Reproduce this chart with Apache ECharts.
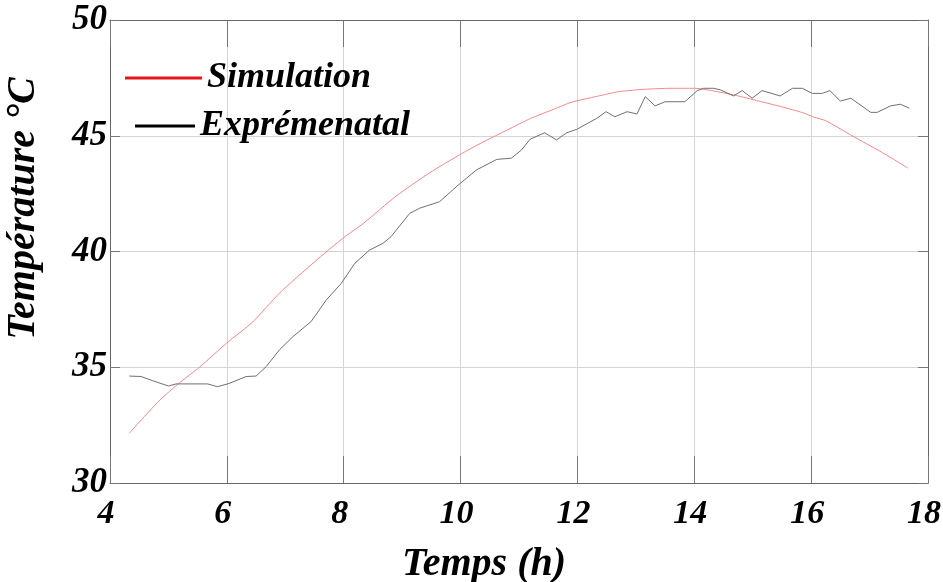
<!DOCTYPE html>
<html>
<head>
<meta charset="utf-8">
<script src="https://cdn.jsdelivr.net/npm/echarts@6/dist/echarts.min.js"></script>
<style>
  html, body { margin: 0; padding: 0; background: #fff; }
  #chart { width: 943px; height: 582px; }
</style>
</head>
<body>
<div id="chart"></div>
<script>
// simulation curve (red)
const simTime = [4.33, 4.84, 5.2, 5.53, 6.0, 6.44, 6.9, 7.5, 8.0, 8.33, 8.9, 9.47, 10.0, 10.4, 10.8,
  11.2, 11.6, 11.9, 12.33, 12.7, 13.1, 13.6, 14.0, 14.3, 14.7, 15.1, 15.5, 15.85, 16.05, 16.25,
  16.7, 17.2, 17.66];
const simTemp = [32.15, 33.55, 34.35, 35.0, 36.05, 36.95, 38.2, 39.55, 40.6, 41.2, 42.4, 43.4, 44.2, 44.75, 45.25,
  45.75, 46.15, 46.45, 46.7, 46.9, 47.0, 47.05, 47.05, 46.95, 46.75, 46.5, 46.25, 46.0, 45.8, 45.65,
  45.0, 44.3, 43.6];

// measured curve (black)
const expTime = [4.33, 4.53, 4.73, 5.0, 5.13, 5.67, 5.84, 6.04, 6.33, 6.5, 6.67, 6.9, 7.13, 7.44, 7.7,
  7.96, 8.19, 8.44, 8.67, 8.81, 9.13, 9.3, 9.64, 9.96, 10.27, 10.62, 10.87, 11.04, 11.19, 11.44,
  11.64, 11.82, 11.99, 12.33, 12.49, 12.64, 12.85, 13.02, 13.16, 13.33, 13.5, 13.84, 14.05, 14.16, 14.33,
  14.45, 14.67, 14.82, 14.99, 15.16, 15.47, 15.68, 15.85, 16.02, 16.19, 16.32, 16.5, 16.68, 17.02, 17.13,
  17.36, 17.53, 17.68];
const expTemp = [34.62, 34.6, 34.42, 34.19, 34.28, 34.28, 34.16, 34.3, 34.6, 34.62, 35.02, 35.75, 36.32, 36.97, 37.9,
  38.63, 39.49, 40.06, 40.35, 40.64, 41.65, 41.87, 42.15, 42.87, 43.52, 43.98, 44.03, 44.38, 44.85, 45.13,
  44.82, 45.13, 45.28, 45.75, 46.04, 45.82, 46.04, 45.94, 46.69, 46.29, 46.47, 46.47, 46.95, 47.05, 47.05,
  46.98, 46.72, 46.95, 46.62, 46.95, 46.72, 47.05, 47.05, 46.83, 46.83, 46.95, 46.5, 46.62, 46.01, 46.01,
  46.29, 46.36, 46.19];

const xTicks = [4, 6, 8, 10, 12, 14, 16, 18];
const yTicks = [30, 35, 40, 45, 50];

const font = 'Liberation Serif';
const pair = (xs, ys) => xs.map((x, i) => [x, ys[i]]);

const chart = echarts.init(document.getElementById('chart'));

const xBase = {
  type: 'value', min: xTicks[0], max: xTicks[xTicks.length - 1], interval: 2,
  axisLine: { show: true, lineStyle: { color: '#666', width: 1 } },
  axisTick: { show: true, inside: true, length: 27, lineStyle: { color: '#777' } }
};
const yBase = {
  type: 'value', min: yTicks[0], max: yTicks[yTicks.length - 1], interval: 5,
  axisLine: { show: true, lineStyle: { color: '#666', width: 1 } },
  axisTick: { show: true, inside: true, length: 10, lineStyle: { color: '#777' } }
};

const option = {
  backgroundColor: '#fff',
  animation: false,
  grid: { left: 110, right: 15, top: 20, bottom: 99, containLabel: false, outerBoundsMode: 'none' },
  legend: [
    {
      left: 125, top: 60, padding: 0, icon: 'rect', itemWidth: 77, itemHeight: 3,
      textStyle: { fontFamily: font, fontStyle: 'italic', fontWeight: 'bold', fontSize: 36, color: '#000' },
      data: [{ name: 'Simulation', itemStyle: { color: '#e8141c' } }]
    },
    {
      left: 135, top: 108, padding: 0, icon: 'rect', itemWidth: 60, itemHeight: 3,
      textStyle: { fontFamily: font, fontStyle: 'italic', fontWeight: 'bold', fontSize: 36, color: '#000' },
      data: [{ name: 'Exprémenatal', itemStyle: { color: '#000' } }]
    }
  ],
  xAxis: [
    Object.assign({}, xBase, {
      position: 'bottom',
      name: 'Temps (h)', nameLocation: 'middle', nameGap: 62,
      nameTextStyle: { fontFamily: font, fontStyle: 'italic', fontWeight: 'bold', fontSize: 40, color: '#000', padding: [0, 70, 0, 0] },
      axisLabel: { margin: 14, fontFamily: font, fontStyle: 'italic', fontWeight: 'bold', fontSize: 34, color: '#000', padding: [0, 8, 0, 0] },
      splitLine: { show: true, lineStyle: { color: '#d4d4d4', width: 1 } }
    }),
    Object.assign({}, xBase, { position: 'top', axisLabel: { show: false }, splitLine: { show: false } })
  ],
  yAxis: [
    Object.assign({}, yBase, {
      position: 'left',
      name: 'Température °C', nameLocation: 'middle', nameGap: 66, nameRotate: 90,
      nameTextStyle: { fontFamily: font, fontStyle: 'italic', fontWeight: 'bold', fontSize: 40, color: '#000', padding: [0, 0, 0, 86] },
      axisLabel: { margin: 3, fontFamily: font, fontStyle: 'italic', fontWeight: 'bold', fontSize: 35, color: '#000' },
      splitLine: { show: true, lineStyle: { color: '#d4d4d4', width: 1 } }
    }),
    Object.assign({}, yBase, { position: 'right', axisLabel: { show: false }, splitLine: { show: false } })
  ],
  series: [
    {
      name: 'Simulation', type: 'line', showSymbol: false, smooth: 0.2,
      lineStyle: { color: '#f08a8a', width: 1 }, itemStyle: { color: '#f08a8a' },
      data: pair(simTime, simTemp)
    },
    {
      name: 'Exprémenatal', type: 'line', showSymbol: false,
      lineStyle: { color: '#707070', width: 1 }, itemStyle: { color: '#707070' },
      data: pair(expTime, expTemp)
    }
  ]
};

chart.setOption(option);
</script>
</body>
</html>
